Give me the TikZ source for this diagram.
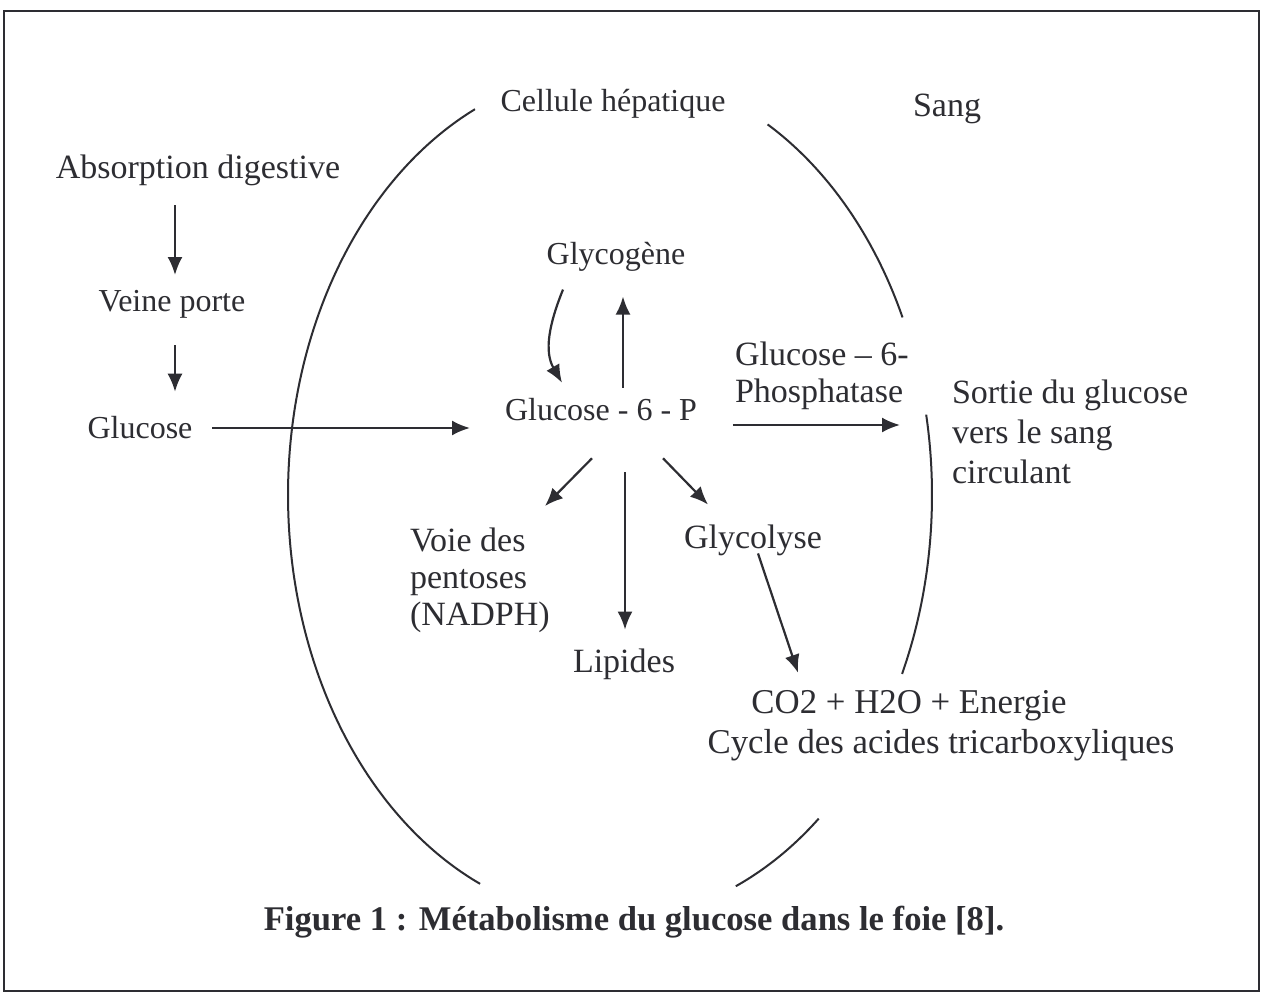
\documentclass[tikz,border=0pt]{standalone}
\usepackage{fontspec}
\setmainfont{Liberation Serif}
\usetikzlibrary{arrows.meta,calc}
\definecolor{ink}{RGB}{45,45,50}
\begin{document}
\begin{tikzpicture}[x=0.5pt,y=-0.5pt,
  every node/.style={inner sep=0pt, outer sep=0pt, text=ink},
  lbl/.style={font=\fontsize{17}{18.5}\selectfont},
  lblsm/.style={font=\fontsize{16}{18}\selectfont},
  wall/.style={draw=ink, line width=1pt},
  arr/.style={draw=ink, line width=1.1pt, -{Latex[length=9pt,width=7.5pt]}},
]
\useasboundingbox (0,0) rectangle (1264,995);
\fill[white] (0,0) rectangle (1264,995);
% frame
\draw[draw=ink, line width=1.3pt] (4,11) rectangle (1259,991);

% labels
\node[lblsm] (cell) at (613,104) {Cellule hépatique};
\node[lbl] (sang) at (947,109) {Sang};
\node[lbl] (absorp) at (198,170) {Absorption digestive};
\node[lblsm] (veine) at (172,304) {Veine porte};
\node[lblsm] (glucL) at (140,428) {Glucose};
\node[lblsm] (glyco) at (616,257) {Glycogène};
\node[lblsm] (g6p) at (601,410) {Glucose - 6 - P};
\node[anchor=north west, align=left, font=\fontsize{17}{18.5}\selectfont] (phos) at (735,342) {Glucose – 6-\\Phosphatase};
\node[anchor=north west, align=left, font=\fontsize{17}{20}\selectfont] (sortie) at (952,380) {Sortie du glucose\\vers le sang\\circulant};
\node[anchor=north west, align=left, font=\fontsize{17}{18.5}\selectfont] (voie) at (410,528) {Voie des\\pentoses\\(NADPH)};
\node[lbl] (glycol) at (753,540) {Glycolyse};
\node[lbl] (lip) at (624,664) {Lipides};
\node[font=\fontsize{17.4}{20}\selectfont] (co2) at (909,706) {CO2 + H2O + Energie};
\node[font=\fontsize{17.4}{20}\selectfont] (cycle) at (941,745) {Cycle des acides tricarboxyliques};
\node[font=\bfseries\fontsize{17.3}{20}\selectfont] (fig) at (634,922) {Figure 1 : Métabolisme du glucose dans le foie [8].};

% liver cell membrane (pieces of one ellipse)
\draw[wall] plot[domain=113.8:245.2, samples=90, smooth] ({610+322*cos(\x)},{495+425*sin(\x)});
\draw[wall] plot[domain=299.3:335.3, samples=30, smooth] ({610+322*cos(\x)},{495+425*sin(\x)});
\draw[wall] plot[domain=-10.9:24.9, samples=30, smooth] ({610+322*cos(\x)},{495+425*sin(\x)});
\draw[wall] plot[domain=49.6:67, samples=20, smooth] ({610+322*cos(\x)},{495+425*sin(\x)});

% arrows
\draw[arr] ($(veine.north |- absorp.south)+(3,20)$) -- ($(veine.north)+(3,-15)$);
\draw[arr] ($(veine.south)+(3,27)$) -- ($(veine.south |- glucL.north)+(3,-25)$);
\draw[arr] ($(glucL.east)+(20,0)$) -- ($(g6p.west |- glucL.east)+(-35,0)$);
\draw[arr] ($(g6p.north)+(22,-11)$) -- ($(glyco.south)+(7,25)$);
\draw[arr] ($(glyco.south)+(-53,18)$) to[out=-112,in=120] ($(g6p.north)+(-39,-16)$);
\draw[arr] ($(g6p.south)+(-9,37)$) -- ($(voie.north west)+(135,-22)$);
\draw[arr] ($(g6p.south)+(24,51)$) -- ($(lip.north)+(1,-19)$);
\draw[arr] ($(g6p.south)+(62,37)$) -- ($(glycol.north)+(-45,-20)$);
\draw[arr] ($(glycol.south)+(5,-2)$) -- ($(co2.north)+(-111,-18)$);
\draw[arr] ($(g6p.east)+(36,15)$) -- ($(sortie.north west |- g6p.east)+(-52,15)$);
\end{tikzpicture}
\end{document}
